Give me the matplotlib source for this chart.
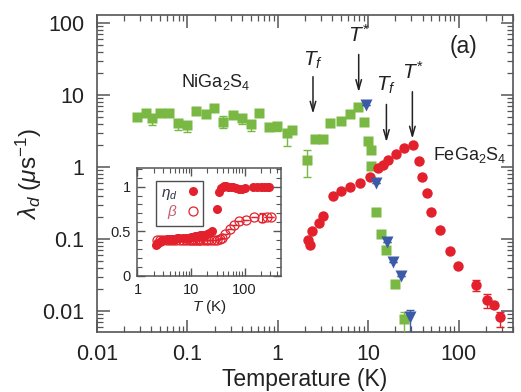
import matplotlib
matplotlib.use('Agg')
from matplotlib import pyplot as plt
from matplotlib.ticker import LogLocator, FixedLocator, MultipleLocator, NullFormatter
from matplotlib.lines import Line2D

plt.rcParams['font.family'] = ['Liberation Sans', 'DejaVu Sans']
plt.rcParams['mathtext.fontset'] = 'custom'
plt.rcParams['mathtext.rm'] = 'Liberation Sans'
plt.rcParams['mathtext.it'] = 'Liberation Sans:italic'
plt.rcParams['mathtext.bf'] = 'Liberation Sans:bold'

# NiGa2S4 (green squares)
ni_T = [0.0275, 0.0348, 0.0402, 0.0497, 0.0629, 0.0791, 0.098, 0.126, 0.159, 0.198,
        0.249, 0.316, 0.397, 0.499, 0.621, 0.795, 0.968, 1.25, 1.42, 2.08, 2.56, 3.17,
        3.76, 4.97, 6.25, 7.71, 8.99, 9.95, 10.8, 10.8, 12.3, 14.0, 15.9, 20.0, 24.7]
ni_lam = [5.0, 5.68, 4.75, 5.57, 5.57, 4.12, 3.83, 6.0, 5.39, 6.53,
          4.26, 5.28, 4.75, 3.92, 5.68, 3.63, 3.71, 2.94, 3.26, 1.25, 2.42, 2.42,
          4.04, 4.4, 5.39, 6.88, 4.26, 2.32, 1.72, 1.03, 0.239, 0.117, 0.070, 0.0237, 0.0077]
ni_lo = [0, 0, 0.9, 0, 0, 0.85, 0.75, 0, 0, 0,
         0.8, 0, 0.8, 0.75, 0, 0, 0.6, 1.0, 0, 0.52, 0, 0,
         0, 0, 0, 0, 0, 0, 0, 0, 0, 0, 0, 0, 0.0045]
ni_hi = [0, 0, 0, 0, 0, 0, 0, 0, 0, 0,
         0.8, 0, 0, 0, 0, 0, 0, 0, 0, 0.47, 0, 0,
         0, 0, 0, 0, 0, 0, 0, 0, 0, 0, 0, 0, 0.0021]

# NiGa2S4 second set (blue down triangles)
ni2_T = [9.38, 12.3, 16.3, 18.8, 23.3, 29.3]
ni2_lam = [7.26, 0.605, 0.0918, 0.0484, 0.0306, 0.0082]
ni2_lo = [0, 0, 0, 0, 0, 0.004]
ni2_hi = [0, 0, 0, 0, 0, 0.0021]

# FeGa2S4 (red circles)
fe_T = [2.16, 2.26, 2.41, 2.85, 3.17, 4.08, 4.94, 6.25, 8.05, 10.4, 12.8, 14.5, 16.6,
        20.1, 24.7, 31.0, 36.4, 39.7, 44.9, 49.1, 61.7, 79.6, 98.2, 154, 206, 245, 284]
fe_lam = [0.0968, 0.0826, 0.129, 0.164, 0.209, 0.396, 0.457, 0.533, 0.605, 0.719, 0.959,
          1.08, 1.25, 1.52, 1.84, 2.02, 1.22, 0.733, 0.428, 0.235, 0.133, 0.0688, 0.0422,
          0.0230, 0.0142, 0.0121, 0.0082]
fe_lo = [0] * 23 + [0.0038, 0.0033, 0, 0.0022]
fe_hi = [0] * 23 + [0.004, 0.003, 0, 0.0016]

# inset: eta_d (filled) and beta (open)
eta_T = [2.2, 2.3, 2.4, 2.6, 2.8, 3.0, 3.3, 3.6, 4.0, 4.5, 5.0, 5.5, 6.0, 7.0, 8.0, 9.0,
         10, 11, 12, 13, 14, 15, 16, 18, 20, 22, 25, 30.6, 33, 36, 39, 42, 46, 50, 55,
         62, 70, 80, 90, 100, 145, 170, 200, 230, 260, 290]
eta_v = [0.34, 0.36, 0.37, 0.38, 0.39, 0.40, 0.40, 0.41, 0.41, 0.41, 0.41, 0.42, 0.42, 0.42,
         0.42, 0.42, 0.43, 0.44, 0.45, 0.45, 0.45, 0.46, 0.46, 0.46, 0.47, 0.48, 0.50,
         0.75, 0.94, 0.99, 1.0, 1.01, 1.01, 1.0, 1.0, 1.0, 0.99, 0.97, 0.97, 0.98,
         1.0, 1.0, 1.0, 1.0, 1.0, 1.0]
beta_T = [2.3, 2.6, 3.0, 3.5, 4.0, 4.6, 5.3, 6.1, 7.0, 8.0, 9.0, 10, 11, 12, 13, 14, 15,
          17, 19, 21, 24, 27, 31, 35, 38, 44, 54, 63, 78, 107, 149, 214, 265, 306]
beta_v = [0.40, 0.40, 0.40, 0.40, 0.40, 0.40, 0.40, 0.40, 0.40, 0.40, 0.40, 0.40, 0.40,
          0.40, 0.40, 0.40, 0.40, 0.40, 0.40, 0.40, 0.40, 0.40, 0.40, 0.41, 0.42, 0.47,
          0.52, 0.57, 0.61, 0.63, 0.66, 0.65, 0.66, 0.66]
beta_err = [0] * 31 + [0.05, 0, 0]

green = '#78b843'
red = '#e3212d'
blue = '#3b5aa8'
ink = '#222222'
spine = '#555555'

fig = plt.figure(figsize=(5.21, 3.92), dpi=100)
ax = fig.add_axes([0.1862, 0.1531, 0.7985, 0.8087])

ax.errorbar(ni_T, ni_lam, yerr=[ni_lo, ni_hi], fmt='s', color=green, ms=7.5, mec='none',
            ecolor=green, elinewidth=1, capsize=3, zorder=3)
ax.errorbar(fe_T, fe_lam, yerr=[fe_lo, fe_hi], fmt='o', color=red, ms=7.5, mec='none',
            ecolor=red, elinewidth=1, capsize=3, zorder=3)
ax.errorbar(ni2_T, ni2_lam, yerr=[ni2_lo, ni2_hi], fmt='v', color=blue, ms=8, mec='none',
            ecolor=blue, elinewidth=1, capsize=3, zorder=4)

ax.set_xscale('log')
ax.set_yscale('log')
ax.set_xlim(0.01, 400)
ax.set_ylim(0.0051, 129)

for s in ax.spines.values():
    s.set_color(spine)
    s.set_linewidth(1.2)
ax.tick_params(which='both', direction='in', top=True, right=True, color=spine,
               labelsize=15.5, labelcolor=ink, pad=9)
ax.tick_params(which='major', length=9, width=1.1)
ax.tick_params(which='minor', length=4.5, width=0.9)
ax.xaxis.set_major_locator(FixedLocator([0.01, 0.1, 1, 10, 100]))
ax.set_xticklabels(['0.01', '0.1', '1', '10', '100'])
ax.yaxis.set_major_locator(FixedLocator([0.01, 0.1, 1, 10, 100]))
ax.set_yticklabels(['0.01', '0.1', '1', '10', '100'])
ax.xaxis.set_minor_locator(LogLocator(base=10, subs=range(2, 10), numticks=20))
ax.yaxis.set_minor_locator(LogLocator(base=10, subs=range(2, 10), numticks=20))
ax.xaxis.set_minor_formatter(NullFormatter())
ax.yaxis.set_minor_formatter(NullFormatter())

ax.set_xlabel('Temperature (K)', fontsize=16.5, color=ink, labelpad=2)
ax.set_ylabel(r'$\lambda_d$ ($\mu$s$^{-1}$)', fontsize=17.5, color=ink, labelpad=-1)

ax.text(0.206, 15.3, r'NiGa$_2$S$_4$', fontsize=13, color=ink, ha='center', va='center')
ax.text(51.6, 1.47, r'FeGa$_2$S$_4$', fontsize=13, color=ink, ha='left', va='center')
ax.text(113, 46.9, '(a)', fontsize=16.5, color=ink, ha='center', va='center')

arr = dict(arrowstyle='->,head_length=0.7,head_width=0.2', lw=1.1, color=ink)
ax.annotate('', xy=(2.45, 5.0), xytext=(2.45, 19.6), arrowprops=arr)
ax.annotate('', xy=(7.85, 10.0), xytext=(7.85, 39.9), arrowprops=arr)
ax.annotate('', xy=(15.9, 2.02), xytext=(15.9, 8.07), arrowprops=arr)
ax.annotate('', xy=(30.8, 2.25), xytext=(30.8, 12.1), arrowprops=arr)
ax.text(2.45, 30.6, r'$T_f$', fontsize=15, color=ink, ha='center', va='center')
ax.text(7.85, 68, r'$T^{*}$', fontsize=15, color=ink, ha='center', va='center')
ax.text(15.9, 13.8, r'$T_f$', fontsize=15, color=ink, ha='center', va='center')
ax.text(30.8, 20.9, r'$T^{*}$', fontsize=15, color=ink, ha='center', va='center')

# inset
ins = fig.add_axes([0.2639, 0.2967, 0.2754, 0.2747])
ins.errorbar(beta_T, beta_v, yerr=beta_err, fmt='o', mfc='none', mec=red, ms=6.5,
             mew=0.9, ecolor=red, elinewidth=0.8, capsize=2, zorder=3)
ins.plot(eta_T, eta_v, 'o', color=red, ms=6.5, mec='none', zorder=4)
ins.set_xscale('log')
ins.set_xlim(1, 480)
ins.set_ylim(0, 1.21)
for s in ins.spines.values():
    s.set_color(spine)
    s.set_linewidth(1.1)
ins.tick_params(which='both', direction='in', top=True, right=True, color=spine,
                labelsize=10.5, labelcolor=ink, pad=5)
ins.tick_params(which='major', length=6, width=1)
ins.tick_params(which='minor', length=3.5, width=0.8)
ins.xaxis.set_major_locator(FixedLocator([1, 10, 100]))
ins.set_xticklabels(['1', '10', '100'])
ins.xaxis.set_minor_locator(LogLocator(base=10, subs=range(2, 10), numticks=20))
ins.xaxis.set_minor_formatter(NullFormatter())
ins.yaxis.set_major_locator(FixedLocator([0, 0.5, 1]))
ins.set_yticklabels(['0', '0.5', '1'])
ins.yaxis.set_minor_locator(MultipleLocator(0.1))
ins.set_xlabel(r'$T$ (K)', fontsize=11, color=ink, labelpad=1)

handles = [Line2D([], [], ls='none', marker='o', color=red, mec='none', ms=6.5),
           Line2D([], [], ls='none', marker='o', mfc='none', mec=red, mew=0.9, ms=6.5)]
leg = ins.legend(handles, [r'$\eta_d$', r'$\beta$'], loc='upper left',
                 bbox_to_anchor=(0.13, 0.88), markerfirst=False, fontsize=11,
                 frameon=True, fancybox=False, handlelength=0.8, handletextpad=0.6,
                 borderpad=0.3, labelspacing=0.1, borderaxespad=0)
leg.get_frame().set_edgecolor(ink)
leg.get_frame().set_linewidth(1)
leg.get_texts()[0].set_color('#333344')
leg.get_texts()[1].set_color('#c06070')

plt.savefig('out.png', dpi=100)
